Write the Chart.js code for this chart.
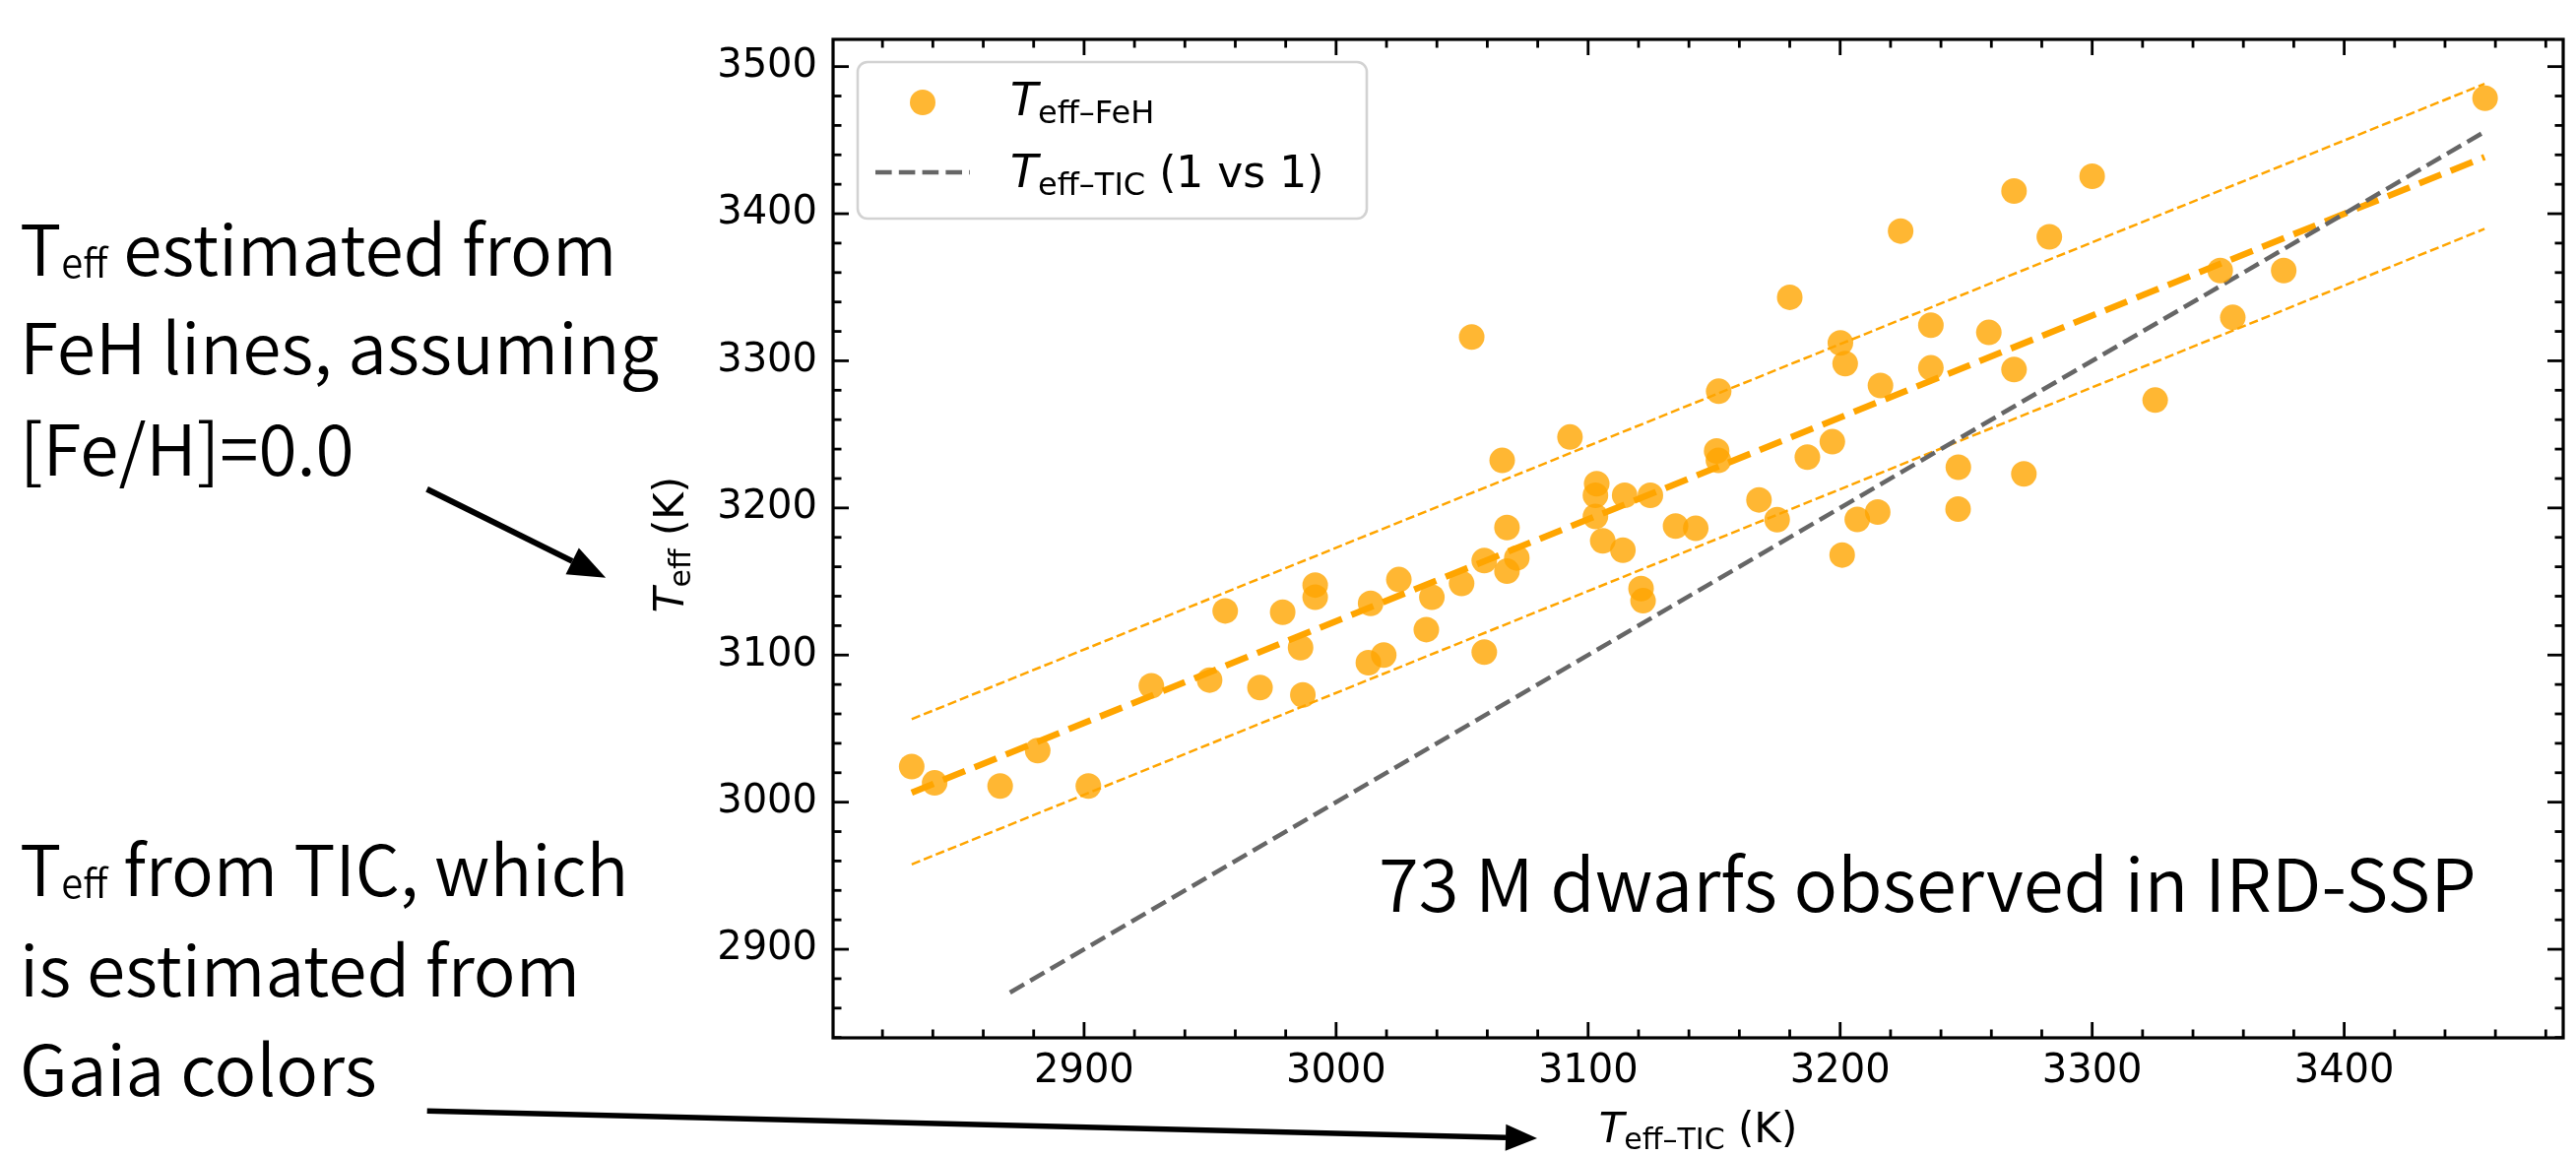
<!DOCTYPE html>
<html><head><meta charset="utf-8">
<script src="https://cdn.jsdelivr.net/npm/chart.js@4.4.0/dist/chart.umd.min.js"></script>
<style>html,body{margin:0;padding:0;background:#fff;}canvas{display:block;}</style>
</head><body>
<div style="width:2616px;height:1174px;position:relative"><canvas id="c" width="2616" height="1174"></canvas></div>
<script>
// ---- data ----
const teffTIC = [2831.6,2840.7,2866.7,2881.6,2901.7,2926.7,2949.8,2956.0,2969.8,2978.8,
  2985.9,2986.8,2991.7,2991.7,3012.8,3018.9,3013.7,3024.9,3035.8,3038.0,
  3049.8,3058.8,3058.8,3067.8,3071.7,3121.0,3121.8,3053.8,3092.8,3065.9,
  3103.4,3102.9,3114.5,3124.7,3102.9,3067.8,3134.7,3142.7,3105.8,3113.8,
  3455.9,3300.0,3269.0,3224.0,3283.0,3180.0,3350.8,3376.0,3355.8,3236.0,
  3259.0,3200.1,3202.0,3236.0,3269.0,3151.8,3216.0,3325.0,3151.0,3151.7,
  3196.9,3187.0,3167.8,3175.0,3246.9,3272.9,3214.9,3206.8,3246.8,3200.8];
const teffFeH = [3024.2,3013.1,3011.0,3035.1,3011.0,3079.1,3083.0,3130.0,3077.9,3129.1,
  3105.0,3072.9,3147.6,3139.3,3094.8,3100.0,3135.1,3151.3,3117.3,3139.3,
  3148.7,3102.0,3164.3,3157.0,3166.0,3145.2,3136.9,3316.2,3248.2,3232.3,
  3216.5,3208.6,3208.6,3208.6,3194.2,3186.7,3187.7,3186.1,3177.6,3171.3,
  3478.5,3425.5,3415.4,3388.2,3384.3,3343.2,3361.4,3361.4,3329.5,3324.2,
  3319.3,3312.2,3298.1,3295.2,3294.1,3279.3,3283.2,3273.3,3238.7,3232.3,
  3245.0,3234.5,3205.5,3192.0,3227.7,3223.2,3197.2,3192.2,3199.2,3168.0];
const fitX   = [2831.6, 3455.7];
const fitY   = [3006.5, 3438.5];
const upperY = [3056.4, 3488.3];
const lowerY = [2957.7, 3389.7];
const oneX   = [2870.6, 3455.6];
const oneY   = [2870.6, 3455.6];
const xTicks = [2900, 3000, 3100, 3200, 3300, 3400];
const yTicks = [2900, 3000, 3100, 3200, 3300, 3400, 3500];
const xRange = [2800.4, 3486.9];
const yRange = [2839.8, 3518.5];
const minorStep = 20;

const pts = teffTIC.map((x, i) => ({x: x, y: teffFeH[i]}));
const seg = (xs, ys) => xs.map((x, i) => ({x: x, y: ys[i]}));

const ORANGE = '#FFA500';
const PTCOL = 'rgba(255,165,0,0.8)';
const GREY = '#666666';
const DV = "'DejaVu Sans'";
const JP = "'Noto Sans CJK JP'";
const JPW = '350';

function subText(ctx, x, y, main, sub, rest, mainFont, subFont, restFont, subDy) {
  ctx.font = mainFont; ctx.fillText(main, x, y); x += ctx.measureText(main).width;
  ctx.font = subFont; ctx.fillText(sub, x, y + subDy); x += ctx.measureText(sub).width;
  if (rest) { ctx.font = restFont; ctx.fillText(rest, x, y); x += ctx.measureText(rest).width; }
  return x;
}
function widthOf(ctx, parts) {
  let w = 0; for (const [t, f] of parts) { ctx.font = f; w += ctx.measureText(t).width; } return w;
}
function arrow(ctx, x0, y0, x1, y1, lw, hl, hw) {
  const a = Math.atan2(y1 - y0, x1 - x0);
  const bx = x1 - hl * Math.cos(a), by = y1 - hl * Math.sin(a);
  ctx.save(); ctx.strokeStyle = '#000'; ctx.fillStyle = '#000'; ctx.lineWidth = lw; ctx.setLineDash([]);
  ctx.beginPath(); ctx.moveTo(x0, y0); ctx.lineTo(bx, by); ctx.stroke();
  ctx.beginPath(); ctx.moveTo(x1, y1);
  ctx.lineTo(bx + hw / 2 * Math.sin(a), by - hw / 2 * Math.cos(a));
  ctx.lineTo(bx - hw / 2 * Math.sin(a), by + hw / 2 * Math.cos(a));
  ctx.closePath(); ctx.fill(); ctx.restore();
}
function fitFont(ctx, text, target, weight) {
  ctx.font = weight + ' 100px ' + JP;
  return 100 * target / ctx.measureText(text).width;
}

const deco = {
  id: 'deco',
  afterDatasetsDraw(chart) {
    const ctx = chart.ctx, {left, right, top, bottom} = chart.chartArea;
    const xs = chart.scales.x, ys = chart.scales.y;
    ctx.save();
    ctx.strokeStyle = '#000'; ctx.setLineDash([]);
    ctx.lineWidth = 2.8;
    const ln = (a, b, c, d) => { ctx.beginPath(); ctx.moveTo(a, b); ctx.lineTo(c, d); ctx.stroke(); };
    for (let v = Math.ceil(xRange[0] / minorStep) * minorStep; v <= xRange[1]; v += minorStep) {
      const p = xs.getPixelForValue(v); const L = xTicks.includes(v) ? 16 : 8.5;
      ln(p, bottom, p, bottom - L); ln(p, top, p, top + L);
    }
    for (let v = Math.ceil(yRange[0] / minorStep) * minorStep; v <= yRange[1]; v += minorStep) {
      const p = ys.getPixelForValue(v); const L = yTicks.includes(v) ? 16 : 8.5;
      ln(left, p, left + L, p); ln(right, p, right - L, p);
    }
    ctx.lineWidth = 3.2;
    ctx.strokeRect(left, top, right - left, bottom - top);

    // legend
    const lx = left + 25, ly = top + 23, lw = 517, lh = 159;
    ctx.beginPath(); ctx.roundRect(lx, ly, lw, lh, 10);
    ctx.fillStyle = 'rgba(255,255,255,0.85)'; ctx.fill();
    ctx.strokeStyle = '#d2d2d2'; ctx.lineWidth = 2.6; ctx.stroke();
    ctx.fillStyle = PTCOL; ctx.beginPath(); ctx.arc(lx + 66, ly + 41, 13, 0, Math.PI * 2); ctx.fill();
    ctx.strokeStyle = GREY; ctx.lineWidth = 4.5; ctx.setLineDash([16.6, 7.2]);
    ln(lx + 18, ly + 112, lx + 114, ly + 112);
    ctx.setLineDash([]);
    ctx.fillStyle = '#000'; ctx.textBaseline = 'alphabetic'; ctx.textAlign = 'left';
    subText(ctx, lx + 155, ly + 54, 'T', 'eff\u2013FeH', '', 'italic 46px ' + DV, '32px ' + DV, '', 8);
    subText(ctx, lx + 155, ly + 127, 'T', 'eff\u2013TIC', ' (1 vs 1)', 'italic 46px ' + DV, '32px ' + DV, '44px ' + DV, 8);

    // x label
    const xl = [['T', 'italic 42px ' + DV], ['eff\u2013TIC', '30px ' + DV], [' (K)', '42px ' + DV]];
    let w = widthOf(ctx, xl);
    subText(ctx, (left + right) / 2 - w / 2, 1160, 'T', 'eff\u2013TIC', ' (K)', xl[0][1], xl[1][1], xl[2][1], 7);
    // y label
    const yl = [['T', 'italic 42px ' + DV], ['eff', '30px ' + DV], [' (K)', '42px ' + DV]];
    w = widthOf(ctx, yl);
    ctx.save(); ctx.translate(694, (top + bottom) / 2 + 6); ctx.rotate(-Math.PI / 2);
    subText(ctx, -w / 2, 0, 'T', 'eff', ' (K)', yl[0][1], yl[1][1], yl[2][1], 7);
    ctx.restore();

    // in-plot annotation
    const fs = fitFont(ctx, '73 M dwarfs observed in IRD-SSP', 1115, JPW);
    ctx.font = JPW + ' ' + fs.toFixed(1) + 'px ' + JP; ctx.fillStyle = '#000';
    ctx.fillText('73 M dwarfs observed in IRD-SSP', 1400, 926);
    ctx.restore();
  },
  afterDraw(chart) {
    const ctx = chart.ctx;
    ctx.save(); ctx.fillStyle = '#000'; ctx.textAlign = 'left'; ctx.textBaseline = 'alphabetic';
    const f = fitFont(ctx, 'FeH lines, assuming', 649, JPW);
    const mf = JPW + ' ' + f.toFixed(1) + 'px ' + JP, sf = JPW + ' ' + (f * 0.56).toFixed(1) + 'px ' + JP;
    subText(ctx, 20, 280, 'T', 'eff', ' estimated from', mf, sf, mf, 2);
    ctx.font = mf; ctx.fillText('FeH lines, assuming', 20, 380);
    ctx.fillText('[Fe/H]=0.0', 20, 483);
    subText(ctx, 20, 910, 'T', 'eff', ' from TIC, which', mf, sf, mf, 2);
    ctx.font = mf; ctx.fillText('is estimated from', 20, 1012);
    ctx.fillText('Gaia colors', 20, 1113);
    arrow(ctx, 433.6, 496.7, 615.2, 586.7, 6, 38, 30);
    arrow(ctx, 433.7, 1128.3, 1561, 1156, 5.5, 32, 27);
    ctx.restore();
  }
};

new Chart(document.getElementById('c'), {
  type: 'scatter',
  data: { datasets: [
    { label: 'Teff-FeH', data: pts, backgroundColor: PTCOL, borderWidth: 0, pointRadius: 13, pointHoverRadius: 13, order: 0 },
    { type: 'line', label: 'fit', data: seg(fitX, fitY), borderColor: ORANGE, borderWidth: 6.5, borderDash: [24, 10.4], pointRadius: 0, fill: false, order: 2 },
    { type: 'line', label: 'upper', data: seg(fitX, upperY), borderColor: ORANGE, borderWidth: 2.5, borderDash: [9.2, 4], pointRadius: 0, fill: false, order: 2 },
    { type: 'line', label: 'lower', data: seg(fitX, lowerY), borderColor: ORANGE, borderWidth: 2.5, borderDash: [9.2, 4], pointRadius: 0, fill: false, order: 2 },
    { type: 'line', label: 'Teff-TIC (1 vs 1)', data: seg(oneX, oneY), borderColor: GREY, borderWidth: 4.5, borderDash: [16.6, 7.2], pointRadius: 0, fill: false, order: 1 }
  ]},
  options: {
    responsive: false, animation: false, devicePixelRatio: 1,
    layout: { padding: { left: 0, right: 12, top: 13, bottom: 0 } },
    plugins: { legend: { display: false }, tooltip: { enabled: false } },
    scales: {
      x: { type: 'linear', min: xRange[0], max: xRange[1],
        afterBuildTicks: s => { s.ticks = xTicks.map(v => ({ value: v })); },
        afterFit: s => { s.height = 120; },
        grid: { display: false, drawTicks: false }, border: { display: false },
        ticks: { font: { family: 'DejaVu Sans', size: 40 }, color: '#000', padding: 11, maxRotation: 0, autoSkip: false,
          callback: v => String(v) } },
      y: { type: 'linear', min: yRange[0], max: yRange[1],
        afterBuildTicks: s => { s.ticks = yTicks.map(v => ({ value: v })); },
        afterFit: s => { s.width = 846; },
        grid: { display: false, drawTicks: false }, border: { display: false },
        ticks: { font: { family: 'DejaVu Sans', size: 40 }, color: '#000', padding: 16, autoSkip: false,
          callback: v => String(v) } }
    }
  },
  plugins: [deco]
});
</script>
</body></html>
